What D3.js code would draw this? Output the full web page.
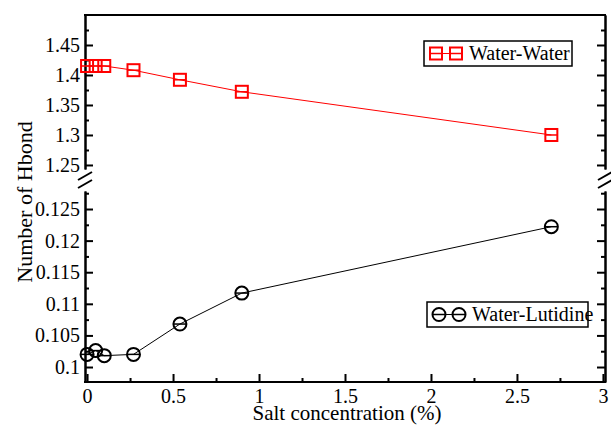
<!DOCTYPE html>
<html>
<head>
<meta charset="utf-8">
<script src="https://cdn.jsdelivr.net/npm/d3@7"></script>
<style>
  body { margin: 0; background: #fff; }
  text { font-family: "Liberation Serif", "Times New Roman", serif; }
</style>
</head>
<body>
<div id="chart"></div>
<script>
// Data
const salt = [0, 0.05, 0.1, 0.27, 0.54, 0.9, 2.7];
const waterWater = [1.415, 1.415, 1.415, 1.408, 1.392, 1.372, 1.300];
const waterLutidine = [0.1020, 0.1026, 0.1018, 0.1020, 0.1068, 0.1117, 0.1222];

const xTicks = [0, 0.5, 1, 1.5, 2, 2.5, 3];
const xMinor = [0.25, 0.75, 1.25, 1.75, 2.25, 2.75];
const yTopTicks = [1.25, 1.3, 1.35, 1.4, 1.45];
const yTopMinor = [1.275, 1.325, 1.375, 1.425, 1.475];
const yBotTicks = [0.1, 0.105, 0.11, 0.115, 0.12, 0.125];
const yBotMinor = [0.1025, 0.1075, 0.1125, 0.1175, 0.1225, 0.1275];

const W = 611, H = 425;
const pLeft = 85, pRight = 605, pTop = 15, pBottom = 382;
const breakTop = 169, breakBot = 191;

const svg = d3.select("#chart").append("svg")
    .attr("width", W)
    .attr("height", H);

const x = d3.scaleLinear().domain([-0.012, 3.012]).range([pLeft, pRight]);
const yTop = d3.scaleLinear().domain([1.2433, 1.5]).range([breakTop, pTop]);
const yBot = d3.scaleLinear().domain([0.09763, 0.12785]).range([pBottom, breakBot]);

// top frame line (no ticks)
svg.append("line")
    .attr("x1", pLeft - 1).attr("x2", pRight + 1)
    .attr("y1", pTop).attr("y2", pTop)
    .attr("stroke", "#000").attr("stroke-width", 2);

function styleAxis(g) {
    g.select(".domain").attr("stroke-width", 2);
    g.selectAll(".tick line").attr("stroke-width", 2);
    g.selectAll(".tick text")
        .style("font-family", "'Liberation Serif', serif")
        .style("font-size", "20px")
        .attr("fill", "#000");
}

// x axis
svg.append("g")
    .attr("transform", `translate(0,${pBottom})`)
    .call(d3.axisBottom(x).tickValues(xTicks).tickSize(-8).tickSizeOuter(0)
        .tickPadding(7).tickFormat(d3.format("")))
    .call(styleAxis)
    .call(g => g.select(".domain").remove());
svg.append("g")
    .attr("transform", `translate(0,${pBottom})`)
    .call(d3.axisBottom(x).tickValues(xMinor).tickSize(-4).tickFormat(""))
    .call(styleAxis)
    .call(g => g.select(".domain").remove());
svg.append("line")
    .attr("x1", pLeft - 1).attr("x2", pRight + 1)
    .attr("y1", pBottom).attr("y2", pBottom)
    .attr("stroke", "#000").attr("stroke-width", 2);

// y axes: left (labels) and right (ticks only), two segments each
[[yTop, yTopTicks, yTopMinor], [yBot, yBotTicks, yBotMinor]].forEach(([sc, major, minor]) => {
    svg.append("g")
        .attr("transform", `translate(${pLeft},0)`)
        .call(d3.axisLeft(sc).tickValues(major).tickSize(-8).tickSizeOuter(0)
            .tickPadding(5).tickFormat(d3.format("")))
        .call(styleAxis);
    svg.append("g")
        .attr("transform", `translate(${pLeft},0)`)
        .call(d3.axisLeft(sc).tickValues(minor).tickSize(-4).tickSizeOuter(0).tickFormat(""))
        .call(styleAxis);
    svg.append("g")
        .attr("transform", `translate(${pRight},0)`)
        .call(d3.axisRight(sc).tickValues(major).tickSize(-8).tickSizeOuter(0).tickFormat(""))
        .call(styleAxis);
    svg.append("g")
        .attr("transform", `translate(${pRight},0)`)
        .call(d3.axisRight(sc).tickValues(minor).tickSize(-4).tickSizeOuter(0).tickFormat(""))
        .call(styleAxis);
});

// break marks
[pLeft, pRight].forEach(cx => {
    [176, 184].forEach(cy => {
        svg.append("line")
            .attr("x1", cx - 7).attr("y1", cy + 4)
            .attr("x2", cx + 7).attr("y2", cy - 4)
            .attr("stroke", "#000").attr("stroke-width", 2);
    });
});

// series
const red = "#ff0000";
const wwData = salt.map((s, i) => [s, waterWater[i]]);
const wlData = salt.map((s, i) => [s, waterLutidine[i]]);

svg.append("path")
    .datum(wwData)
    .attr("fill", "none").attr("stroke", red).attr("stroke-width", 1)
    .attr("d", d3.line().x(d => x(d[0])).y(d => yTop(d[1])));

svg.append("path")
    .datum(wlData)
    .attr("fill", "none").attr("stroke", "#000").attr("stroke-width", 1)
    .attr("d", d3.line().x(d => x(d[0])).y(d => yBot(d[1])));

function square(g, cx, cy) {
    g.append("rect")
        .attr("x", cx - 6).attr("y", cy - 6)
        .attr("width", 12).attr("height", 12)
        .attr("fill", "none").attr("stroke", red).attr("stroke-width", 2);
    g.append("line")
        .attr("x1", cx - 6).attr("x2", cx + 6)
        .attr("y1", cy).attr("y2", cy)
        .attr("stroke", red).attr("stroke-width", 1.5);
}

function circle(g, cx, cy) {
    g.append("circle")
        .attr("cx", cx).attr("cy", cy).attr("r", 6.5)
        .attr("fill", "none").attr("stroke", "#000").attr("stroke-width", 2);
    g.append("line")
        .attr("x1", cx - 6.5).attr("x2", cx + 6.5)
        .attr("y1", cy).attr("y2", cy)
        .attr("stroke", "#000").attr("stroke-width", 1.5);
}

const marks = svg.append("g");
wwData.forEach(d => square(marks, x(d[0]), yTop(d[1])));
wlData.forEach(d => circle(marks, x(d[0]), yBot(d[1])));

// legends
function legend(bx, by, bw, label, sym, color) {
    const g = svg.append("g");
    g.append("rect")
        .attr("x", bx).attr("y", by).attr("width", bw).attr("height", 25)
        .attr("fill", "#fff").attr("stroke", "#000").attr("stroke-width", 1.5);
    const cy = by + 12.5;
    g.append("line")
        .attr("x1", bx + 12).attr("x2", bx + 32)
        .attr("y1", cy).attr("y2", cy)
        .attr("stroke", color).attr("stroke-width", 1);
    sym(g, bx + 12, cy);
    sym(g, bx + 32, cy);
    g.append("text")
        .attr("x", bx + 45).attr("y", cy + 6.5)
        .style("font-size", "20px")
        .text(label);
}
legend(424, 41, 148, "Water-Water", square, red);
legend(427, 302, 161, "Water-Lutidine", circle, "#000");

// axis titles
svg.append("text")
    .attr("x", 347)
    .attr("y", 420)
    .attr("text-anchor", "middle")
    .style("font-size", "21px")
    .text("Salt concentration (%)");

svg.append("text")
    .attr("transform", "translate(32,202) rotate(-90)")
    .attr("text-anchor", "middle")
    .style("font-size", "22px")
    .text("Number of Hbond");
</script>
</body>
</html>
